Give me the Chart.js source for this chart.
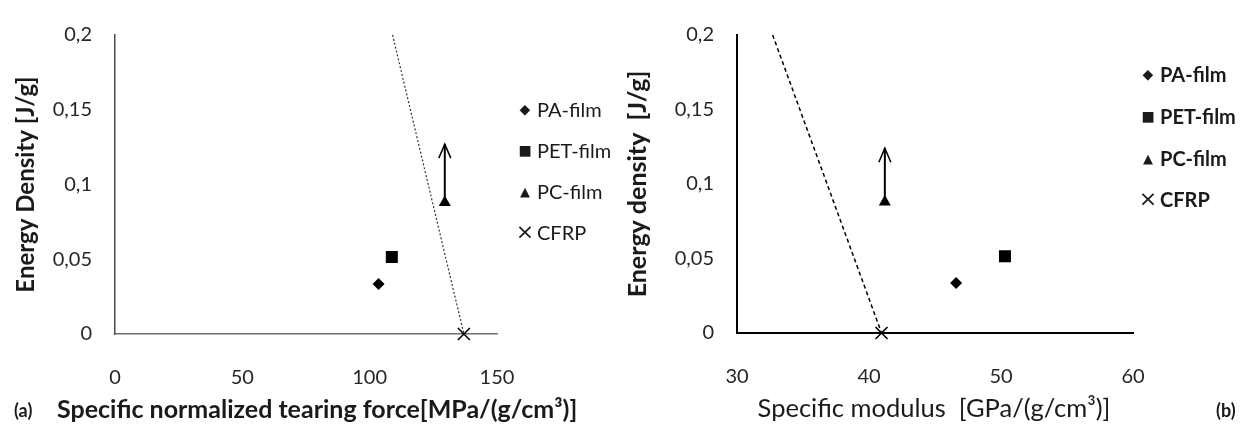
<!DOCTYPE html>
<html>
<head>
<meta charset="utf-8">
<script src="https://cdn.jsdelivr.net/npm/chart.js@4.4.1/dist/chart.umd.min.js"></script>
<style>
  body { margin: 0; background: #fff; width: 1250px; height: 430px; position: relative; overflow: hidden; font-family: Lato, sans-serif; color: #1a1a1a; }
  .panel { position: absolute; top: 0; height: 430px; }
  .txt { position: absolute; white-space: nowrap; line-height: 1; }
  .leg { position: absolute; white-space: nowrap; font-size: 20px; line-height: 1; }
  .leg .mk { position: absolute; font-family: "DejaVu Sans", sans-serif; transform: translate(-50%, -50%); top: 50%; }
</style>
</head>
<body>
<div class="panel" style="left:0;width:620px"><canvas id="chartA" width="620" height="430"></canvas></div>
<div class="panel" style="left:620px;width:630px"><canvas id="chartB" width="630" height="430"></canvas></div>

<div class="txt" style="left:14px;top:401px;font-size:18px;font-weight:bold">(a)</div>
<div class="txt" style="left:57px;top:396px;font-size:25px;font-weight:bold">Specific normalized tearing force[MPa/(g/cm³)]</div>
<div class="txt" style="left:934px;top:395px;font-size:25.5px;transform:translateX(-50%)">Specific modulus&nbsp; [GPa/(g/cm³)]</div>
<div class="txt" style="left:1216px;top:401px;font-size:18px;font-weight:bold">(b)</div>

<div id="legendA"></div>
<div id="legendB"></div>

<script>
// Materials shared by both panels
const materials = ['PA-film', 'PET-film', 'PC-film', 'CFRP'];
const markerStyles = ['rectRot', 'rect', 'triangle', 'crossRot'];
const markerRadius = [6, 8.5, 7, 8.5];
const legendGlyphs = ['◆', '■', '▲', '×'];

// (a) tearing force vs energy density
const tearX = [103.5, 108.7, 129.5, 137];
const tearY = [0.0335, 0.0515, 0.088, 0];
const tearArrowX = [129.5, 129.5];
const tearArrowY = [0.088, 0.127];
const tearBoundX = [109, 137];
const tearBoundY = [0.2, 0];
const tearTicksX = [0, 50, 100, 150];

// (b) specific modulus vs energy density
const modX = [46.6, 50.3, 41.2, 40.95];
const modY = [0.0335, 0.0515, 0.088, 0];
const modArrowX = [41.2, 41.2];
const modArrowY = [0.088, 0.124];
const modBoundX = [32.7, 40.95];
const modBoundY = [0.2, 0];
const modTicksX = [30, 40, 50, 60];

const energyTicks = [0, 0.05, 0.1, 0.15, 0.2];

Chart.defaults.font.family = 'Lato, sans-serif';
Chart.defaults.color = '#262626';

function pairs(xs, ys) {
    return xs.map((x, i) => ({ x: x, y: ys[i] }));
}

// open arrow head at the last point of the "arrow" dataset
const arrowHead = {
    id: 'arrowHead',
    afterDatasetsDraw(chart) {
        chart.data.datasets.forEach((ds, i) => {
            if (ds.label !== 'arrow') return;
            const pts = chart.getDatasetMeta(i).data;
            const tip = pts[pts.length - 1];
            const ctx = chart.ctx;
            ctx.save();
            ctx.strokeStyle = '#000';
            ctx.lineWidth = 1.5;
            ctx.beginPath();
            ctx.moveTo(tip.x - 6, tip.y + 14);
            ctx.lineTo(tip.x, tip.y);
            ctx.lineTo(tip.x + 6, tip.y + 14);
            ctx.stroke();
            ctx.restore();
        });
    }
};

function buildChart(canvasId, opt) {
    const datasets = [];
    // dashed boundary line
    datasets.push({
        type: 'line',
        label: 'bound',
        data: pairs(opt.boundX, opt.boundY),
        borderColor: opt.dashColor,
        borderWidth: opt.dashWidth,
        borderDash: opt.dash,
        pointRadius: 0,
        fill: false,
        clip: false,
        order: 3
    });
    // arrow shaft
    datasets.push({
        type: 'line',
        label: 'arrow',
        data: pairs(opt.arrowX, opt.arrowY),
        borderColor: '#000',
        borderWidth: 2,
        pointRadius: 0,
        fill: false,
        order: 2
    });
    materials.forEach((name, i) => {
        datasets.push({
            type: 'scatter',
            label: name,
            data: [{ x: opt.xs[i], y: opt.ys[i] }],
            pointStyle: markerStyles[i],
            pointRadius: markerRadius[i],
            backgroundColor: '#000',
            borderColor: '#000',
            borderWidth: i === 3 ? 1.6 : 0,
            clip: false,
            order: 1
        });
    });

    return new Chart(document.getElementById(canvasId), {
        type: 'scatter',
        data: { datasets: datasets },
        plugins: [arrowHead],
        options: {
            responsive: false,
            animation: false,
            layout: { padding: { left: 0, top: opt.top, right: opt.right, bottom: 0 } },
            plugins: { legend: { display: false }, tooltip: { enabled: false } },
            scales: {
                x: {
                    type: 'linear',
                    min: opt.ticksX[0],
                    max: opt.ticksX[opt.ticksX.length - 1],
                    afterBuildTicks: s => { s.ticks = opt.ticksX.map(v => ({ value: v })); },
                    afterFit: s => { s.height = opt.bottomH; },
                    grid: { display: false, drawTicks: false },
                    border: { color: opt.xAxisColor, width: opt.axisWidth },
                    ticks: { padding: 32, font: { size: 20 }, color: '#262626' }
                },
                y: {
                    type: 'linear',
                    min: 0,
                    max: 0.2,
                    afterBuildTicks: s => { s.ticks = energyTicks.map(v => ({ value: v })); },
                    afterFit: s => { s.width = opt.leftW; },
                    grid: { display: false, drawTicks: false },
                    border: { color: opt.yAxisColor, width: opt.axisWidth },
                    ticks: {
                        padding: 23,
                        font: { size: 20 },
                        color: '#262626',
                        callback: v => String(+v.toFixed(2)).replace('.', ',')
                    },
                    title: {
                        display: true,
                        text: opt.yTitle,
                        font: { size: opt.yTitleSize, weight: 'bold' },
                        color: '#1a1a1a',
                        padding: { top: opt.yTitlePad, bottom: 0 }
                    }
                }
            }
        }
    });
}

buildChart('chartA', {
    xs: tearX, ys: tearY,
    arrowX: tearArrowX, arrowY: tearArrowY,
    boundX: tearBoundX, boundY: tearBoundY,
    ticksX: tearTicksX,
    top: 21, right: 123, leftW: 115, bottomH: 96,
    dash: [2, 2], dashWidth: 1.2, dashColor: '#333',
    xAxisColor: '#6e6e6e', yAxisColor: '#4a4a4a', axisWidth: 1.5,
    yTitle: 'Energy Density [J/g]', yTitleSize: 24, yTitlePad: 12
});

buildChart('chartB', {
    xs: modX, ys: modY,
    arrowX: modArrowX, arrowY: modArrowY,
    boundX: modBoundX, boundY: modBoundY,
    ticksX: modTicksX,
    top: 16, right: 117, leftW: 117, bottomH: 97,
    dash: [4, 3], dashWidth: 1.5, dashColor: '#000',
    xAxisColor: '#000', yAxisColor: '#000', axisWidth: 2,
    yTitle: 'Energy density  [J/g]', yTitleSize: 25, yTitlePad: 3
});

// legends (plain HTML next to each plot)
function buildLegend(id, markerX, textX, rows, bold) {
    const box = document.getElementById(id);
    materials.forEach((name, i) => {
        const row = document.createElement('div');
        row.className = 'leg';
        row.style.left = textX + 'px';
        row.style.top = (rows[i] - 10) + 'px';
        row.style.height = '20px';
        if (bold) row.style.fontWeight = 'bold';
        const mk = document.createElement('span');
        mk.className = 'mk';
        mk.textContent = legendGlyphs[i];
        mk.style.left = (markerX - textX) + 'px';
        mk.style.fontSize = i === 3 ? '22px' : (i === 2 ? '13px' : '14px');
        mk.style.fontWeight = 'normal';
        row.appendChild(mk);
        row.appendChild(document.createTextNode(name));
        box.appendChild(row);
    });
}
buildLegend('legendA', 525, 537, [109, 150, 191, 232], false);
buildLegend('legendB', 1148, 1160, [74, 116, 158, 199], true);
</script>
</body>
</html>
